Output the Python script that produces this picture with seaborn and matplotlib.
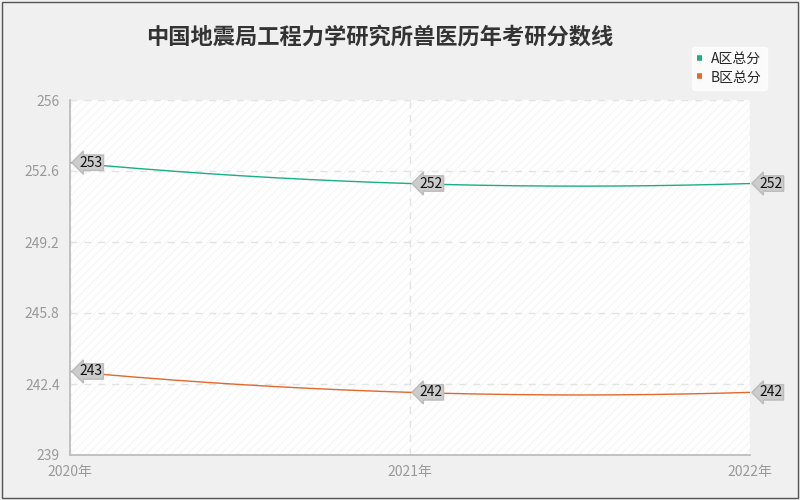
import numpy as np
import matplotlib
matplotlib.use("Agg")
import matplotlib.pyplot as plt
import seaborn as sns

years = [2020, 2021, 2022]
year_labels = ["2020年", "2021年", "2022年"]
a_scores = [253, 252, 252]
b_scores = [243, 242, 242]
y_ticks = [239, 242.4, 245.8, 249.2, 252.6, 256]

sns.set_theme(style="white")
plt.rcParams['font.family'] = ['Noto Sans CJK SC', 'DejaVu Sans']

fig = plt.figure(figsize=(8, 5), dpi=100, facecolor="#f0f0f0")
ax = fig.add_axes([70 / 800, 45 / 500, 680 / 800, 355 / 500])
ax.set_facecolor("white")
ax.add_patch(plt.Rectangle((0, 0), 1, 1, transform=ax.transAxes, fill=False,
                           hatch="////", edgecolor="#f6f6f6", lw=0, zorder=0))

series = [("A区总分", a_scores, "#1aaf83"), ("B区总分", b_scores, "#e0692c")]
xs = np.linspace(years[0], years[-1], 200)
for name, vals, col in series:
    coef = np.polyfit(years, vals, 2)
    sns.lineplot(x=xs, y=np.polyval(coef, xs), color=col, lw=1, ax=ax, label=name)
    for x, v in zip(years, vals):
        ax.annotate(str(v), (x, v), xytext=(7, 0), textcoords="offset points",
                    ha="left", va="center", fontsize=10, color="#111111",
                    bbox=dict(boxstyle="larrow,pad=0.05", fc="#cccccc", ec="#bbbbbb"),
                    zorder=5, annotation_clip=False)

ax.set_xlim(2020, 2022)
ax.set_ylim(239, 256)
ax.set_xticks(years)
ax.set_xticklabels(year_labels)
ax.set_yticks(y_ticks)
ax.set_yticklabels([f"{t:g}" for t in y_ticks])
ax.tick_params(colors="#999999", labelsize=10, length=4)
ax.grid(True, ls=(0, (5, 5)), color="#e3e3e3", lw=1)
for s in ["top", "right"]:
    ax.spines[s].set_visible(False)
for s in ["left", "bottom"]:
    ax.spines[s].set_color("#bbbbbb")

leg = ax.legend(loc="upper right", bbox_to_anchor=(1.035, 1.17), frameon=True,
                fontsize=10, handlelength=0.35, handletextpad=0.6, borderpad=0.4,
                labelspacing=0.3)
leg.get_frame().set_edgecolor("white")
for h, (_, _, col) in zip(leg.legend_handles, series):
    h.set_linewidth(4)
    h.set_solid_capstyle("butt")
    h.set_color(col)

fig.text(380 / 800, 1 - 37 / 500, "中国地震局工程力学研究所兽医历年考研分数线",
         ha="center", va="center", fontsize=16, fontweight="bold", color="#333333")
fig.add_artist(plt.Rectangle((0.003, 0.004), 0.994, 0.992, transform=fig.transFigure,
                             fill=False, ec="#555555", lw=1))

fig.savefig("out.png", dpi=100, facecolor=fig.get_facecolor())
